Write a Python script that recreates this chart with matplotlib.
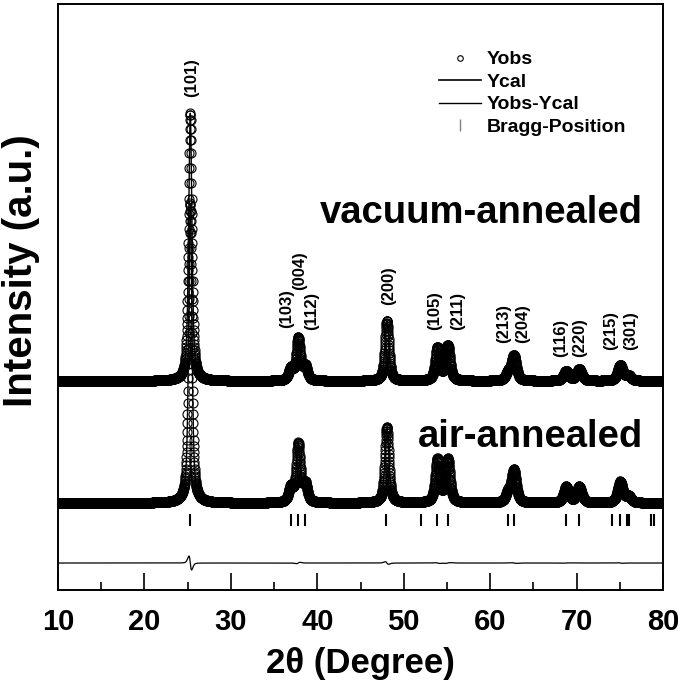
import numpy as np
import matplotlib.pyplot as plt
from matplotlib.lines import Line2D
from matplotlib.ticker import MultipleLocator

plt.rcParams['font.family'] = ['Liberation Sans', 'DejaVu Sans']
plt.rcParams['font.weight'] = 'bold'

# anatase peak table (2theta, height a.u., fwhm)
peak_pos = [25.3, 36.95, 37.8, 38.6, 48.05, 53.9, 55.1, 62.1, 62.75, 68.8, 70.3, 75.05, 76.0]
peak_fwhm = [0.45, 0.6, 0.55, 0.6, 0.55, 0.6, 0.6, 0.65, 0.65, 0.7, 0.7, 0.7, 0.7]
vac_height = [268, 12, 42, 14, 60, 33, 35, 8, 25, 10, 12, 16, 5]
air_height = [300, 15, 58, 18, 76, 43, 43, 10, 32, 16, 16, 21, 6]
# small misfit of the refined positions (gives the Yobs-Ycal curve)
fit_shift = [0.008, 0.0, -0.005, 0.0, 0.007, 0.004, -0.004, 0.0, 0.005, -0.004, 0.0, 0.006, 0.0]

vac_offset = 209
air_offset = 87
diff_offset = 27

bragg_pos = [25.3, 37.0, 37.8, 38.6, 48.0, 51.95, 53.9, 55.1, 62.1, 62.7,
             68.8, 70.3, 74.05, 75.05, 75.8, 76.05, 78.65, 79.0]

hkl_labels = ['(101)', '(103)', '(004)', '(112)', '(200)', '(105)', '(211)',
              '(213)', '(204)', '(116)', '(220)', '(215)', '(301)']
hkl_x = [25.5, 36.5, 38.0, 39.3, 48.2, 53.6, 56.2, 61.5, 63.8, 68.1, 70.4, 73.9, 76.2]
hkl_y = [493, 262, 300, 260, 285, 260, 260, 247, 247, 233, 233, 240, 240]


def pattern(x, heights, shift=None, eta=0.6):
    y = np.zeros_like(x)
    for i, (p, h, w) in enumerate(zip(peak_pos, heights, peak_fwhm)):
        if shift is not None:
            p = p + shift[i]
        d = (x - p) / w
        y += h * (eta / (1 + 4 * d ** 2) + (1 - eta) * np.exp(-4 * np.log(2) * d ** 2))
    return y


x = np.arange(10, 80.001, 0.02)
vac_obs = pattern(x, vac_height) + vac_offset
vac_cal = pattern(x, vac_height, fit_shift) + vac_offset
air_obs = pattern(x, air_height) + air_offset
air_cal = pattern(x, air_height, fit_shift) + air_offset
diff = air_obs - air_cal + diff_offset

fig = plt.figure(figsize=(6.78, 6.84), dpi=100)
ax = fig.add_axes([0.0855, 0.1374, 0.8925, 0.8568])

mk = dict(marker='o', ls='none', ms=6.5, mfc='none', mec='black', mew=0.8)
ax.plot(x, air_obs, **mk)
ax.plot(x, air_cal, color='black', lw=1)
ax.plot(x, vac_obs, **mk)
ax.plot(x, vac_cal, color='black', lw=1)
ax.plot(x, diff, color='black', lw=0.9)
ax.plot(bragg_pos, np.full(len(bragg_pos), 70), ls='none', marker='|',
        ms=9, mew=1.5, color='black')

for lab, lx, ly in zip(hkl_labels, hkl_x, hkl_y):
    ax.text(lx, ly, lab, rotation=90, ha='center', va='bottom', fontsize=12)

ax.text(77.7, 367, 'vacuum-annealed', ha='right', va='baseline', fontsize=27.5)
ax.text(77.7, 143, 'air-annealed', ha='right', va='baseline', fontsize=27.5)

handles = [
    Line2D([], [], marker='o', ls='none', ms=4, mfc='none', mec='black', mew=0.8),
    Line2D([], [], color='black', lw=1.2),
    Line2D([], [], color='black', lw=1.0),
    Line2D([], [], marker='|', ls='none', ms=8, mew=1, color='gray'),
]
ax.legend(handles, ['Yobs', 'Ycal', 'Yobs-Ycal', 'Bragg-Position'],
          loc='upper left', bbox_to_anchor=(0.6, 0.95), frameon=False,
          fontsize=14, handlelength=2.2, handletextpad=0.3, labelspacing=0.25)

ax.set_xlim(10, 80)
ax.set_ylim(0, 586)
ax.set_yticks([])
ax.xaxis.set_major_locator(MultipleLocator(10))
ax.xaxis.set_minor_locator(MultipleLocator(5))
ax.tick_params(axis='x', which='major', direction='in', length=12, width=1.2,
               labelsize=21, pad=13)
ax.tick_params(axis='x', which='minor', direction='in', length=6, width=1.2)
for s in ax.spines.values():
    s.set_linewidth(1.4)

ax.set_xlabel('2θ (Degree)', fontsize=25, fontweight='bold', labelpad=8)
ax.set_ylabel('Intensity (a.u.)', fontsize=29, fontweight='bold')
ax.yaxis.set_label_coords(-0.03, 0.545)

fig.savefig('out.png', dpi=100)
